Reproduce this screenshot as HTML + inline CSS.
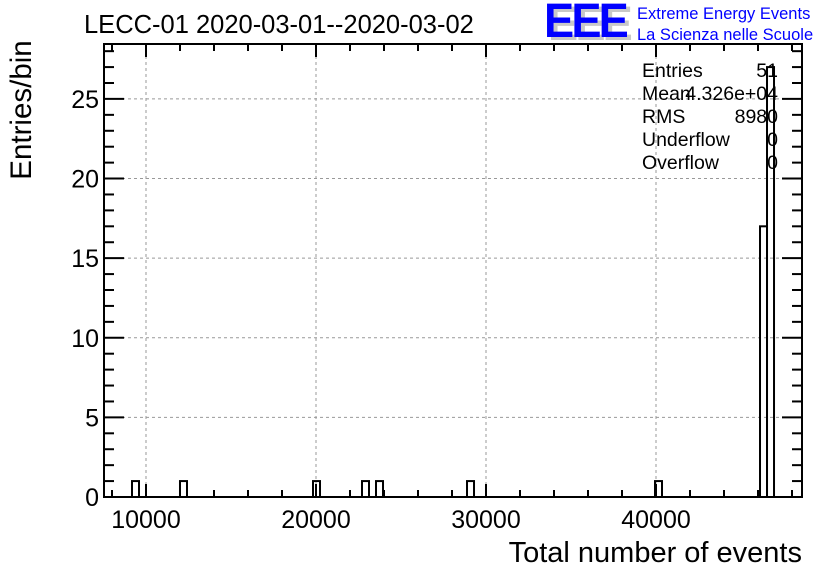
<!DOCTYPE html>
<html><head><meta charset="utf-8"><style>
html,body{margin:0;padding:0;background:#fff;}
svg{display:block;font-family:"Liberation Sans",sans-serif;}
</style></head><body>
<svg id="c" width="836" height="572" viewBox="0 0 836 572">
<text x="84" y="33" font-size="25.5" fill="#000">LECC-01 2020-03-01--2020-03-02</text>
<g>
<text x="548" y="40" font-size="48" font-weight="bold" fill="#c8c8c8" letter-spacing="-3" textLength="82" lengthAdjust="spacingAndGlyphs">EEE</text>
<text x="544" y="37" font-size="48" font-weight="bold" fill="#0000ff" letter-spacing="-3" textLength="82" lengthAdjust="spacingAndGlyphs">EEE</text>
<text x="637" y="19" font-size="16.5" fill="#0000ff">Extreme Energy Events</text>
<text x="637" y="40" font-size="16.5" fill="#0000ff">La Scienza nelle Scuole</text>
</g>
<g id="grid"></g>
<g id="bars"></g>
<g id="axes"></g>
<g font-size="19.5" fill="#000">
<text x="642" y="77">Entries</text><text x="778" y="77" text-anchor="end">51</text>
<text x="642" y="100">Mean</text><text x="778" y="100" text-anchor="end">4.326e+04</text>
<text x="642" y="123">RMS</text><text x="778" y="123" text-anchor="end">8980</text>
<text x="642" y="146">Underflow</text><text x="778" y="146" text-anchor="end">0</text>
<text x="642" y="169">Overflow</text><text x="778" y="169" text-anchor="end">0</text>
</g>
<text transform="translate(31,110) rotate(-90)" text-anchor="middle" font-size="29.5">Entries/bin</text>
<text x="802" y="562" text-anchor="end" font-size="29">Total number of events</text>
</svg>
<script>
const binLefts = [9177, 12000, 19824, 22706, 23530, 28883, 39941, 46118, 46530];
const binCounts = [1, 1, 1, 1, 1, 1, 1, 17, 27];
const binWidth = 412;
const xTicks = [10000, 20000, 30000, 40000];
const yTicks = [0, 5, 10, 15, 20, 25];
const xMin = 7530, xMax = 48588, yMin = 0, yMax = 28.45;
const L = 104, R = 802, T = 44, B = 497;
const sx = v => L + (v - xMin) / (xMax - xMin) * (R - L);
const sy = v => B - (v - yMin) / (yMax - yMin) * (B - T);
const NS = "http://www.w3.org/2000/svg";
function mk(tag, attrs, parent) { const e = document.createElementNS(NS, tag); for (const k in attrs) e.setAttribute(k, attrs[k]); parent.appendChild(e); return e; }
const grid = document.getElementById('grid'), bars = document.getElementById('bars'), axes = document.getElementById('axes');
xTicks.forEach(v => {
  const g = mk('line', {x1: sx(v), x2: sx(v), y1: T, y2: B, stroke: '#999', 'stroke-dasharray': '3,3', 'stroke-width': 1}, grid);
  
  
});
yTicks.forEach(v => {
  if (v === 0) return;
  const g = mk('line', {x1: L, x2: R, y1: sy(v), y2: sy(v), stroke: '#999', 'stroke-dasharray': '3,3', 'stroke-width': 1}, grid);
  
  
});
binLefts.forEach((x0, i) => {
  const r = mk('rect', {x: sx(x0), y: sy(binCounts[i]), width: sx(x0 + binWidth) - sx(x0), height: sy(0) - sy(binCounts[i]), fill: 'none', stroke: '#000', 'stroke-width': 2}, bars);
  
  
});
const frame = mk('rect', {x: L, y: T, width: R - L, height: B - T, fill: 'none', stroke: '#000', 'stroke-width': 2}, axes);


for (let v = 8000; v <= xMax; v += 2000) {
  const len = v % 10000 === 0 ? 13 : 7;
  mk('line', {x1: sx(v), x2: sx(v), y1: B, y2: B - len, stroke: '#000', 'stroke-width': 2}, axes);
  mk('line', {x1: sx(v), x2: sx(v), y1: T, y2: T + len, stroke: '#000', 'stroke-width': 2}, axes);
}
for (let v = 0; v <= 28; v += 1) {
  const len = v % 5 === 0 ? 20 : 10;
  mk('line', {x1: L, x2: L + len, y1: sy(v), y2: sy(v), stroke: '#000', 'stroke-width': 2}, axes);
  mk('line', {x1: R, x2: R - len, y1: sy(v), y2: sy(v), stroke: '#000', 'stroke-width': 2}, axes);
}
xTicks.forEach(v => {
  const t = mk('text', {x: sx(v), y: 528, 'text-anchor': 'middle', 'font-size': 25}, axes);
  t.textContent = v;
  
  
});
yTicks.forEach(v => {
  const t = mk('text', {x: 99, y: sy(v) + 9, 'text-anchor': 'end', 'font-size': 25}, axes);
  t.textContent = v;
  
  
});
</script>
</body></html>
